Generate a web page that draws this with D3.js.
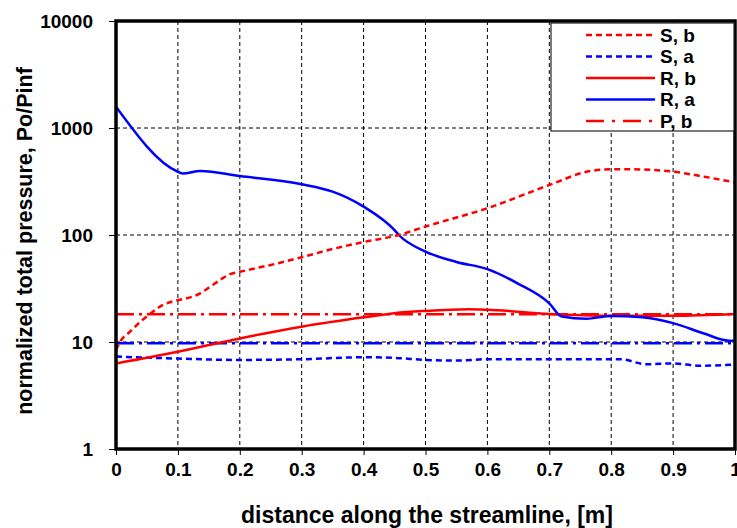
<!DOCTYPE html>
<html><head><meta charset="utf-8">
<script src="https://cdn.jsdelivr.net/npm/d3@7/dist/d3.min.js"></script>
<style>body{margin:0;background:#fff}svg{display:block}text{font-family:"Liberation Sans",Arial,sans-serif;font-weight:bold}</style>
</head><body><svg id="c" width="737" height="528"></svg>
<script>
const xTicks = [0,0.1,0.2,0.3,0.4,0.5,0.6,0.7,0.8,0.9,1];
const yTicks = [1,10,100,1000,10000];
const sbX = [0,0.0065,0.0226,0.039,0.055,0.071,0.087,0.1,0.12,0.136,0.152,0.168,0.184,0.2,0.218,0.25,0.3,0.35,0.4,0.457,0.5,0.6,0.7,0.766,0.8,0.835,0.9,0.95,1.0];
const sbY = [8.4,10,12.5,15.4,18.3,21.4,23.5,24.6,26.1,28.5,32.8,38,43,45.3,47.8,52.5,62,74,86,100,120,178,293,396,411,411,391,351,310];
const saX = [0,0.1,0.2,0.3,0.4,0.45,0.5,0.55,0.6,0.7,0.8,0.815,0.856,0.9,0.943,1.0];
const saY = [7.3,7.0,6.8,6.9,7.2,7.1,6.8,6.7,6.9,6.9,6.9,6.9,6.2,6.3,6.0,6.15];
const rbX = [0,0.1,0.2,0.3,0.4,0.45,0.5,0.57,0.6,0.7,0.8,0.9,1.0];
const rbY = [6.3,8.1,10.8,13.9,17.0,18.6,19.5,20.2,20.0,18.3,17.6,17.6,18.3];
const raX = [0,0.1,0.108,0.136,0.2,0.3,0.35,0.4,0.45,0.457,0.5,0.55,0.6,0.65,0.7,0.72,0.76,0.8,0.85,0.9,0.95,0.99,1.0];
const raY = [1580,390,375,396,356,298,254,184,111,100,70,56,48,35,23,17.3,16.5,17.5,17,15,12,10.3,10.3];
const pbX = [0,1];
const pbY = [18.2,18.2];
const paX = [0,1];
const paY = [9.75,9.75];
const seriesNames = ["S, b","S, a","R, b","R, a","P, b"];

const svg = d3.select("#c");
const L=116, R=735, T=21, B=449;
const x = d3.scaleLinear().domain([0,1]).range([L,R]);
const y = d3.scaleLog().domain([1,10000]).range([B,T]);

// grid
const g = svg.append("g");
g.selectAll(".gx").data(xTicks.slice(1,-1)).enter().append("line")
 .attr("x1",d=>x(d)).attr("x2",d=>x(d)).attr("y1",T).attr("y2",B)
 .attr("stroke","#000").attr("stroke-width",1).attr("stroke-dasharray","4,3");
g.selectAll(".gy").data(yTicks.slice(1,-1)).enter().append("line")
 .attr("x1",L).attr("x2",R).attr("y1",d=>y(d)).attr("y2",d=>y(d))
 .attr("stroke","#000").attr("stroke-width",1).attr("stroke-dasharray","4,3");

// axes
const xAxis = d3.axisBottom(x).tickValues(xTicks).tickFormat(d=>d===0?"0":d===1?"1":String(d)).tickSize(6).tickPadding(8);
const yAxis = d3.axisLeft(y).tickValues(yTicks).tickFormat(d3.format("d")).tickSize(7).tickPadding(16);
const ax = svg.append("g").attr("transform",`translate(0,${B})`).call(xAxis);
const ay = svg.append("g").attr("transform",`translate(${L},0)`).call(yAxis);
[ax,ay].forEach(a=>{a.select(".domain").remove();a.selectAll("text").style("font-size","19px").style("font-family","'Liberation Sans',Arial,sans-serif").style("font-weight","bold").attr("fill","#000");a.selectAll("line").attr("stroke","#000");});
ax.selectAll("text").attr("dy","0.71em");

// clip
svg.append("clipPath").attr("id","clip").append("rect").attr("x",L).attr("y",T).attr("width",R-L).attr("height",B-T);
const line = d3.line().x(d=>x(d[0])).y(d=>y(d[1])).curve(d3.curveMonotoneX);
const lines = svg.append("g").attr("clip-path","url(#clip)");
function draw(xs,ys,color,dash){
  lines.append("path").datum(xs.map((v,i)=>[v,ys[i]])).attr("d",line)
   .attr("fill","none").attr("stroke",color).attr("stroke-width",2.5).attr("stroke-dasharray",dash);
}
draw(paX,paY,"#0000ff","18,5,3,5");
draw(pbX,pbY,"#ff0000","18,5,3,5");
draw(saX,saY,"#0000ff","6,4");
draw(rbX,rbY,"#ff0000",null);
draw(raX,raY,"#0000ff",null);
draw(sbX,sbY,"#ff0000","6,4");

// frame
svg.append("rect").attr("x",L).attr("y",T).attr("width",R-L).attr("height",B-T)
 .attr("fill","none").attr("stroke","#000").attr("stroke-width",3.5);

// legend
const lg = svg.append("g");
lg.append("rect").attr("x",551).attr("y",23).attr("width",183).attr("height",108).attr("fill","#fff").attr("stroke","#222").attr("stroke-width",1.2);
const styles = [["#ff0000","6,4"],["#0000ff","6,4"],["#ff0000",null],["#0000ff",null],["#ff0000","18,8,3,8"]];
seriesNames.forEach((n,i)=>{
  const yy = 35 + i*21.5;
  lg.append("line").attr("x1",586).attr("x2",655).attr("y1",yy).attr("y2",yy)
    .attr("stroke",styles[i][0]).attr("stroke-width",2.5).attr("stroke-dasharray",styles[i][1]);
  lg.append("text").attr("x",660).attr("y",yy).attr("dy","0.36em").style("font-size","19px").text(n);
});

// titles
svg.append("text").attr("x",427).attr("y",523).attr("text-anchor","middle").style("font-size","23px").text("distance along the streamline, [m]");
svg.append("text").attr("transform","translate(32,241) rotate(-90)").attr("text-anchor","middle").style("font-size","21.5px").text("normalized total pressure, Po/Pinf");
</script></body></html>
